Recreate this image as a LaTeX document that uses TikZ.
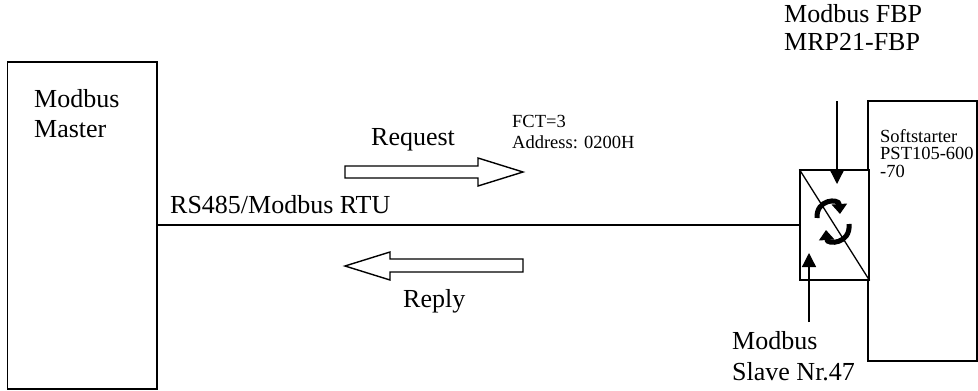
\documentclass[tikz,border=0pt]{standalone}
\usepackage{fontspec}
\setmainfont{Liberation Serif}
\usetikzlibrary{arrows.meta}
\tikzset{
  box/.style={draw=black, line width=1.3pt, inner sep=0pt, fill=white},
  big/.style={font=\fontsize{26}{30}\selectfont, inner sep=0pt, anchor=base west},
  small/.style={font=\fontsize{18.5}{18}\selectfont, inner sep=0pt, anchor=base west},
  fatarrow/.style={draw=black, line width=1.4pt, fill=white, line join=miter},
  feed/.style={line width=1.3pt, -{Triangle[length=14pt,width=14pt]}},
  sync/.style={line width=5pt, -{Triangle[length=10pt,width=15pt]}}
}
\begin{document}
\begin{tikzpicture}[x=1pt,y=-1pt]
\useasboundingbox (0,0) rectangle (978,391);
% boxes
\node[box, minimum width=149.5pt, minimum height=327pt] (master) at (82.25,225.5) {};
\node[box, minimum width=109pt, minimum height=260pt] (soft) at (922.5,231) {};
\node[box, minimum width=69pt, minimum height=110pt] (conv) at (834.5,225) {};
\draw[line width=1.3pt] (conv.north west) -- (conv.south east);
% bus line
\draw[line width=1.3pt] (master.east |- conv.west) -- (conv.west);
% texts
\node[big] (tm1) at (34,107) {Modbus};
\node[big] (tm2) at (34,137) {Master};
\node[big] (tbus) at (170,213) {RS485/Modbus RTU};
\node[big] (treq) at (371,145) {Request};
\node[small] (tfct) at (512,127) {FCT=3};
\node[small] (taddr) at (512,148) {Address: 0200H};
\node[big] (trep) at (403,307) {Reply};
\node[big] (tfbp1) at (784,22) {Modbus FBP};
\node[big] (tfbp2) at (784,50) {MRP21-FBP};
\node[small] (ts1) at (880,142) {Softstarter};
\node[small] (ts2) at (880,159) {PST105-600};
\node[small] (ts3) at (880,177) {-70};
\node[big] (tsl1) at (732,349) {Modbus};
\node[big] (tsl2) at (732,380) {Slave Nr.47};
% fat arrows
\draw[fatarrow] (345,166) -- (478,166) -- (478,158) -- (523,172) -- (478,186) -- (478,178) -- (345,178) -- cycle;
\draw[fatarrow] (523,259) -- (390,259) -- (390,252) -- (345,266) -- (390,280) -- (390,272) -- (523,272) -- cycle;
% feed arrows
\coordinate (fbptop) at (837,101);
\coordinate (fbptip) at (837,184);
\draw[feed] (fbptop) -- (fbptip);
\coordinate (slbot) at (809,322);
\coordinate (sltip) at (809,253);
\draw[feed] (slbot) -- (sltip);
% sync symbol
\draw[sync] (817,218) .. controls (816,199) and (839,198) .. (840,214);
\draw[sync] (849,224) .. controls (851,244) and (827,245) .. (826,230);
\end{tikzpicture}
\end{document}
